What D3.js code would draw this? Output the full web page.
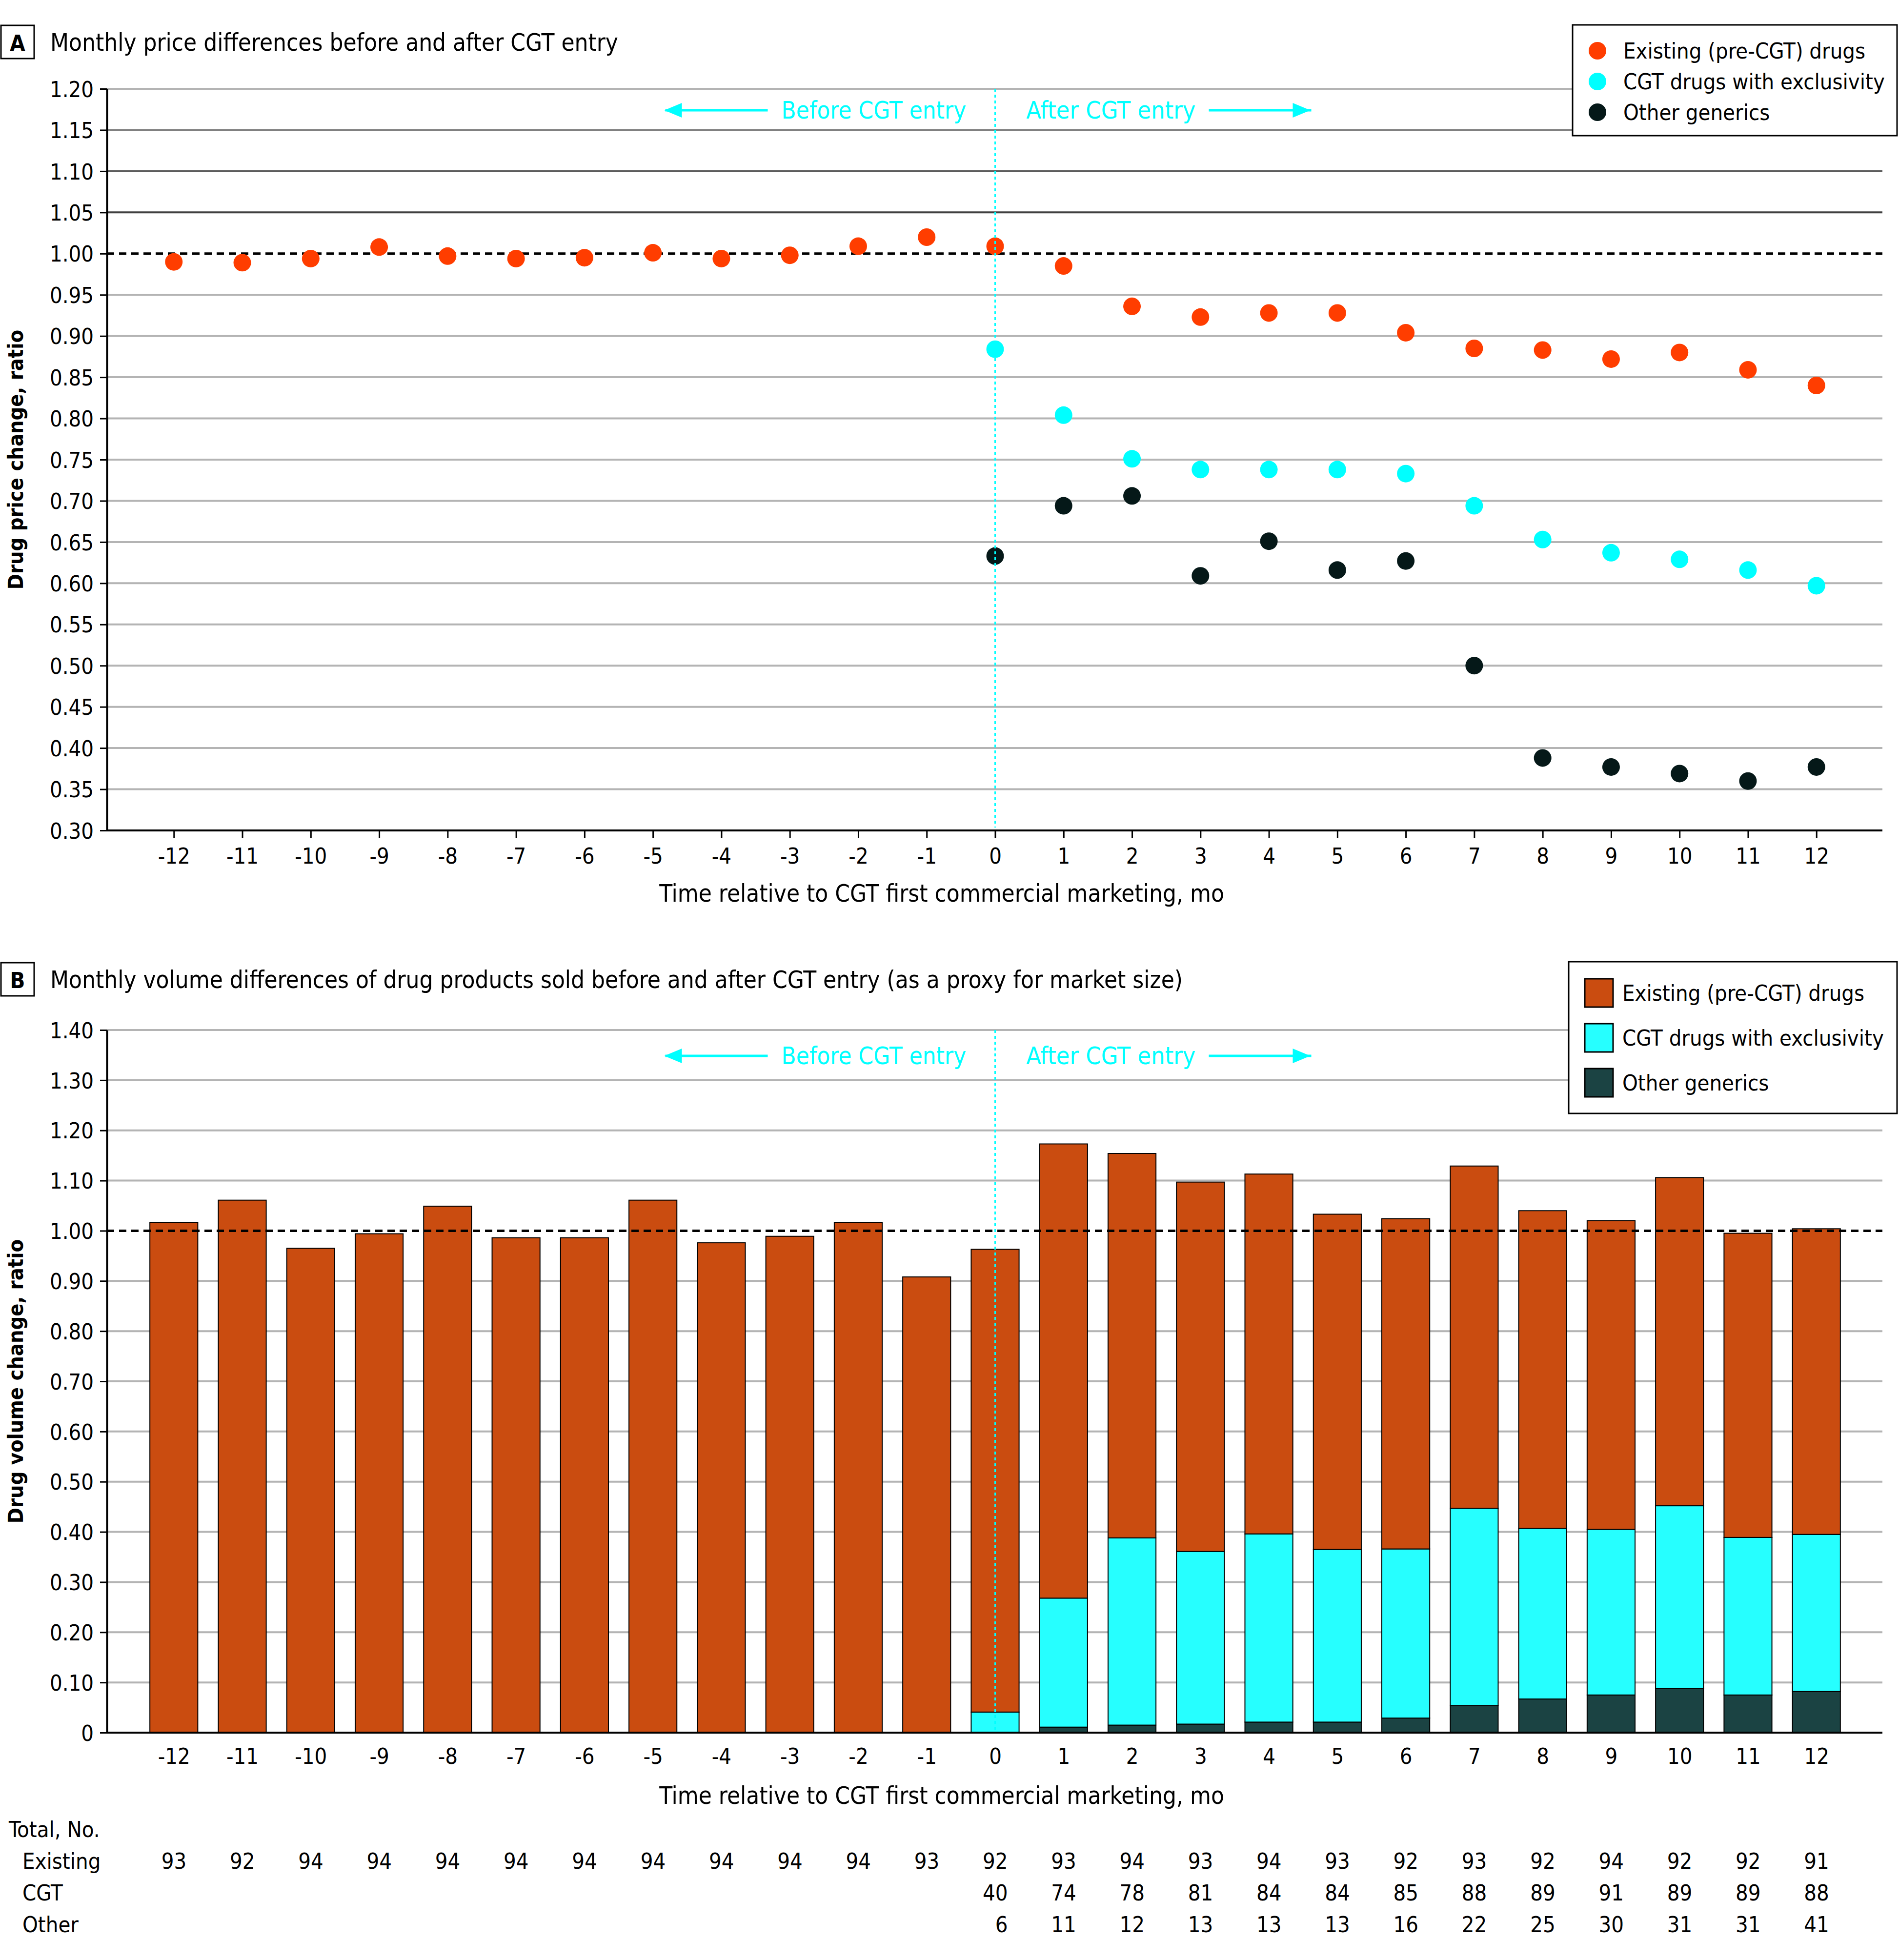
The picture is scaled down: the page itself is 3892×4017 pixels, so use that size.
<!DOCTYPE html>
<html>
<head>
<meta charset="utf-8">
<script src="https://cdn.jsdelivr.net/npm/d3@7"></script>
<style>
  body { margin: 0; background: #fff; }
  text { font-family: "DejaVu Sans Condensed", "DejaVu Sans", sans-serif; fill: #000; }
</style>
</head>
<body>
<div id="chart"></div>
<script>
// months relative to CGT first commercial marketing
const months = [-12, -11, -10, -9, -8, -7, -6, -5, -4, -3, -2, -1, 0, 1, 2, 3, 4, 5, 6, 7, 8, 9, 10, 11, 12];

// panel A: price ratio
const priceExisting = [0.990, 0.989, 0.994, 1.008, 0.997, 0.994, 0.995, 1.001, 0.994, 0.998, 1.009, 1.020,
  1.009, 0.985, 0.936, 0.923, 0.928, 0.928, 0.904, 0.885, 0.883, 0.872, 0.880, 0.859, 0.840];
const priceCGT = [null, null, null, null, null, null, null, null, null, null, null, null,
  0.884, 0.804, 0.751, 0.738, 0.738, 0.738, 0.733, 0.694, 0.653, 0.637, 0.629, 0.616, 0.597];
const priceOther = [null, null, null, null, null, null, null, null, null, null, null, null,
  0.633, 0.694, 0.706, 0.609, 0.651, 0.616, 0.627, 0.500, 0.388, 0.377, 0.369, 0.360, 0.377];
const priceTicks = [0.30, 0.35, 0.40, 0.45, 0.50, 0.55, 0.60, 0.65, 0.70, 0.75, 0.80, 0.85, 0.90, 0.95,
  1.00, 1.05, 1.10, 1.15, 1.20];

// panel B: volume ratio (stacked segments)
const volExisting = [1.016, 1.061, 0.965, 0.994, 1.049, 0.986, 0.986, 1.061, 0.976, 0.989, 1.016, 0.908,
  0.922, 0.905, 0.766, 0.736, 0.717, 0.668, 0.658, 0.682, 0.633, 0.615, 0.654, 0.606, 0.609];
const volCGT = [0, 0, 0, 0, 0, 0, 0, 0, 0, 0, 0, 0,
  0.041, 0.257, 0.373, 0.344, 0.375, 0.344, 0.337, 0.393, 0.340, 0.330, 0.364, 0.314, 0.313];
const volOther = [0, 0, 0, 0, 0, 0, 0, 0, 0, 0, 0, 0,
  0, 0.011, 0.015, 0.017, 0.021, 0.021, 0.029, 0.054, 0.067, 0.075, 0.088, 0.075, 0.082];
const volTicks = [0, 0.10, 0.20, 0.30, 0.40, 0.50, 0.60, 0.70, 0.80, 0.90, 1.00, 1.10, 1.20, 1.30, 1.40];

// table of counts
const nExisting = [93, 92, 94, 94, 94, 94, 94, 94, 94, 94, 94, 93, 92, 93, 94, 93, 94, 93, 92, 93, 92, 94, 92, 92, 91];
const nCGT = [null, null, null, null, null, null, null, null, null, null, null, null,
  40, 74, 78, 81, 84, 84, 85, 88, 89, 91, 89, 89, 88];
const nOther = [null, null, null, null, null, null, null, null, null, null, null, null,
  6, 11, 12, 13, 13, 13, 16, 22, 25, 30, 31, 31, 41];

const seriesNames = ['Existing (pre-CGT) drugs', 'CGT drugs with exclusivity', 'Other generics'];
const pointColors = ['#ff3d00', '#00ffff', '#051818'];
const barColors = ['#ca4c10', '#26ffff', '#1b4343'];

const W = 3892, H = 4017;
const left = 219, right = 3858;

const svg = d3.select('#chart').append('svg')
  .attr('width', W)
  .attr('height', H);

const x = d3.scalePoint().domain(months).range([216, 3863]).padding(1);

function panelLabel(letter, y, title) {
  svg.append('rect')
    .attr('x', 2).attr('y', y - 52).attr('width', 68).attr('height', 68)
    .attr('fill', 'none').attr('stroke', '#000').attr('stroke-width', 3);
  svg.append('text')
    .attr('x', 36).attr('y', y).attr('text-anchor', 'middle')
    .attr('font-size', 45).attr('font-weight', 'bold')
    .text(letter);
  svg.append('text')
    .attr('x', 103).attr('y', y)
    .attr('font-size', 49)
    .text(title);
}

function arrowNotes(yLine) {
  const g = svg.append('g').attr('fill', '#00ffff');
  const x0 = x(0);
  g.append('text').attr('x', x0 - 59).attr('y', yLine + 17)
    .attr('text-anchor', 'end').attr('font-size', 49).style('fill', '#00ffff')
    .text('Before CGT entry');
  g.append('text').attr('x', x0 + 64).attr('y', yLine + 17)
    .attr('font-size', 50).style('fill', '#00ffff')
    .text('After CGT entry');
  // left arrow
  g.append('rect').attr('x', x0 - 676).attr('y', yLine - 2.5).attr('width', 210).attr('height', 5);
  g.append('path').attr('d', `M${x0 - 678},${yLine} l36,-15 l0,30 z`);
  // right arrow
  g.append('rect').attr('x', x0 + 438).attr('y', yLine - 2.5).attr('width', 210).attr('height', 5);
  g.append('path').attr('d', `M${x0 + 646},${yLine} l-36,-15 l0,30 z`);
}

function yLabel(text, cy) {
  svg.append('text')
    .attr('transform', `translate(47,${cy}) rotate(-90)`)
    .attr('text-anchor', 'middle')
    .attr('font-size', 43).attr('font-weight', 'bold')
    .text(text);
}

function xTitle(y) {
  svg.append('text')
    .attr('x', 1930).attr('y', y).attr('text-anchor', 'middle')
    .attr('font-size', 49)
    .text('Time relative to CGT first commercial marketing, mo');
}

// ---------------- Panel A ----------------
const yA = d3.scaleLinear().domain([0.30, 1.20]).range([1702, 182]);
const gridShade = { '1.05': '#404040', '1.10': '#5c5c5c', '1.15': '#808080' };

panelLabel('A', 104, 'Monthly price differences before and after CGT entry');

svg.append('g').selectAll('line')
  .data(priceTicks.filter(d => d > 0.3 && Math.abs(d - 1) > 1e-6))
  .join('line')
  .attr('x1', left).attr('x2', right)
  .attr('y1', d => yA(d)).attr('y2', d => yA(d))
  .attr('stroke', d => gridShade[d.toFixed(2)] || '#b4b4b4')
  .attr('stroke-width', 4);

svg.append('line')
  .attr('x1', left).attr('x2', right)
  .attr('y1', yA(1)).attr('y2', yA(1))
  .attr('stroke', '#000').attr('stroke-width', 5).attr('stroke-dasharray', '15 10');

const axA = svg.append('g').attr('transform', `translate(${left},0)`)
  .call(d3.axisLeft(yA).tickValues(priceTicks).tickFormat(d3.format('.2f')).tickSize(14).tickSizeOuter(0));
const axAx = svg.append('g').attr('transform', `translate(0,${yA(0.30)})`)
  .call(d3.axisBottom(x).tickSize(16).tickSizeOuter(0));

[axA, axAx].forEach(a => {
  a.select('.domain').attr('stroke', '#000').attr('stroke-width', 4);
  a.selectAll('.tick line').attr('stroke', '#000').attr('stroke-width', 3);
  a.selectAll('text').attr('font-size', 45).attr('font-family', null);
});
axA.selectAll('text').attr('x', -27).attr('dy', '0.36em');
axAx.selectAll('text').attr('y', 68).attr('dy', 0);
axAx.select('.domain').attr('d', `M${left},0H${right}`);

const pointSeries = [priceExisting, priceCGT, priceOther];
pointSeries.forEach((vals, i) => {
  svg.append('g').selectAll('circle')
    .data(months.map((m, j) => ({ m, v: vals[j] })).filter(d => d.v != null))
    .join('circle')
    .attr('cx', d => x(d.m)).attr('cy', d => yA(d.v))
    .attr('r', 18)
    .attr('fill', pointColors[i]);
});

svg.append('line')
  .attr('x1', x(0)).attr('x2', x(0))
  .attr('y1', yA(1.20)).attr('y2', yA(0.30) - 6)
  .attr('stroke', '#00ffff').attr('stroke-width', 3).attr('stroke-dasharray', '6 6');

arrowNotes(226);
yLabel('Drug price change, ratio', (yA(1.2) + yA(0.3)) / 2);
xTitle(1848);

// legend A
const legA = svg.append('g');
legA.append('rect').attr('x', 3223).attr('y', 51).attr('width', 665).attr('height', 227)
  .attr('fill', '#fff').attr('stroke', '#000').attr('stroke-width', 3);
seriesNames.forEach((name, i) => {
  const cy = 104 + i * 63;
  legA.append('circle').attr('cx', 3274).attr('cy', cy).attr('r', 18).attr('fill', pointColors[i]);
  legA.append('text').attr('x', 3327).attr('y', cy + 16).attr('font-size', 45).text(name);
});

// ---------------- Panel B ----------------
const yB = d3.scaleLinear().domain([0, 1.4]).range([3551, 2111]);

panelLabel('B', 2025, 'Monthly volume differences of drug products sold before and after CGT entry (as a proxy for market size)');

svg.append('g').selectAll('line')
  .data(volTicks.filter(d => d > 0 && Math.abs(d - 1) > 1e-6))
  .join('line')
  .attr('x1', left).attr('x2', right)
  .attr('y1', d => yB(d)).attr('y2', d => yB(d))
  .attr('stroke', '#b4b4b4').attr('stroke-width', 4);

const rows = months.map((m, i) => ({ month: m, other: volOther[i], cgt: volCGT[i], existing: volExisting[i] }));
const stacked = d3.stack().keys(['other', 'cgt', 'existing'])(rows);
const segColor = { other: barColors[2], cgt: barColors[1], existing: barColors[0] };
const bw = x.step() * 0.7;

svg.append('g').selectAll('g')
  .data(stacked)
  .join('g')
  .attr('fill', s => segColor[s.key])
  .selectAll('rect')
  .data(s => s.filter(d => d[1] - d[0] > 0))
  .join('rect')
  .attr('x', d => x(d.data.month) - bw / 2)
  .attr('width', bw)
  .attr('y', d => yB(d[1]))
  .attr('height', d => yB(d[0]) - yB(d[1]))
  .attr('stroke', '#000').attr('stroke-width', 2);

svg.append('line')
  .attr('x1', left).attr('x2', right)
  .attr('y1', yB(1)).attr('y2', yB(1))
  .attr('stroke', '#000').attr('stroke-width', 5).attr('stroke-dasharray', '15 10');

svg.append('line')
  .attr('x1', x(0)).attr('x2', x(0))
  .attr('y1', yB(1.4)).attr('y2', yB(0))
  .attr('stroke', '#00ffff').attr('stroke-width', 3).attr('stroke-dasharray', '6 6');

const axB = svg.append('g').attr('transform', `translate(${left},0)`)
  .call(d3.axisLeft(yB).tickValues(volTicks)
    .tickFormat(d => d === 0 ? '0' : d3.format('.2f')(d)).tickSize(14).tickSizeOuter(0));
const axBx = svg.append('g').attr('transform', `translate(0,${yB(0)})`)
  .call(d3.axisBottom(x).tickSize(0).tickSizeOuter(0));

[axB, axBx].forEach(a => {
  a.select('.domain').attr('stroke', '#000').attr('stroke-width', 4);
  a.selectAll('.tick line').attr('stroke', '#000').attr('stroke-width', 3);
  a.selectAll('text').attr('font-size', 45).attr('font-family', null);
});
axB.selectAll('text').attr('x', -27).attr('dy', '0.36em');
axBx.selectAll('text').attr('y', 64).attr('dy', 0);
axBx.select('.domain').attr('d', `M${left},0H${right}`);

arrowNotes(2164);
yLabel('Drug volume change, ratio', (yB(1.4) + yB(0)) / 2);
xTitle(3697);

// legend B
const legB = svg.append('g');
legB.append('rect').attr('x', 3215).attr('y', 1971).attr('width', 673).attr('height', 311)
  .attr('fill', '#fff').attr('stroke', '#000').attr('stroke-width', 3);
seriesNames.forEach((name, i) => {
  const cy = 2035 + i * 92;
  legB.append('rect').attr('x', 3248).attr('y', cy - 29).attr('width', 58).attr('height', 58)
    .attr('fill', barColors[i]).attr('stroke', '#000').attr('stroke-width', 3);
  legB.append('text').attr('x', 3325).attr('y', cy + 16).attr('font-size', 45).text(name);
});

// table of counts
const table = svg.append('g').attr('font-size', 45);
table.append('text').attr('x', 18).attr('y', 3765).attr('font-size', 45).text('Total, No.');
const tableRows = [['Existing', nExisting], ['CGT', nCGT], ['Other', nOther]];
tableRows.forEach(([label, vals], r) => {
  const y = 3830 + r * 65;
  table.append('text').attr('x', 46).attr('y', y).attr('font-size', 45).text(label);
  table.append('g').selectAll('text')
    .data(months.map((m, j) => ({ m, v: vals[j] })).filter(d => d.v != null))
    .join('text')
    .attr('x', d => x(d.m) + 26)
    .attr('y', y)
    .attr('text-anchor', 'end')
    .attr('font-size', 45)
    .text(d => d.v);
});
</script>
</body>
</html>
